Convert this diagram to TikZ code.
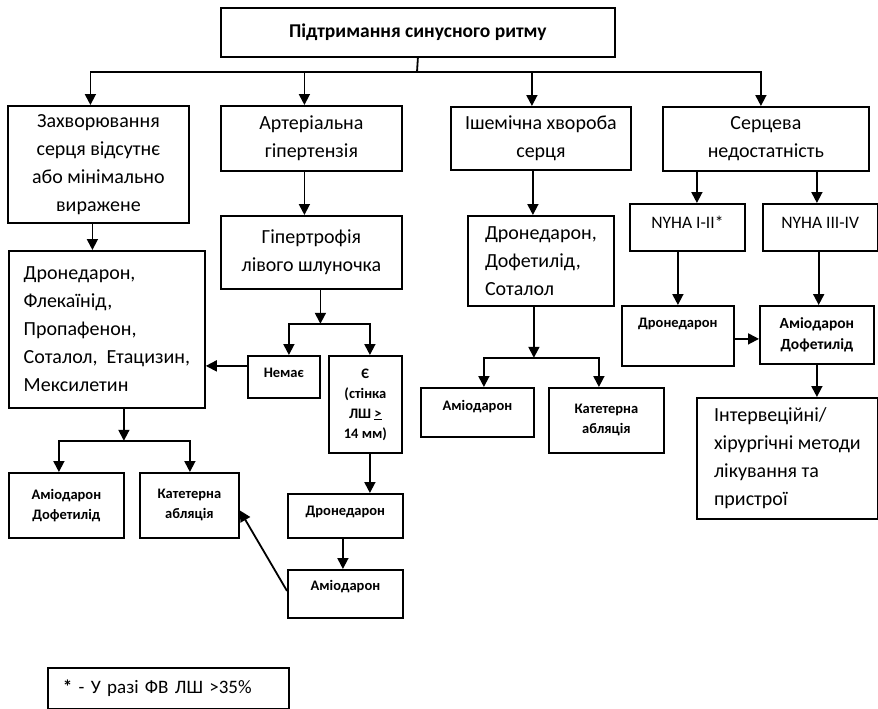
\documentclass[tikz,border=0pt]{standalone}
\usepackage{fontspec}
\setmainfont{Carlito}
\usetikzlibrary{arrows.meta, positioning}

\begin{document}
\begin{tikzpicture}[x=1pt, y=-1pt,
    box/.style={draw, line width=1.8pt, anchor=north west, inner sep=0pt, align=center},
    big/.style={font=\fontsize{20}{28}\selectfont},
    mid/.style={font=\fontsize{17.5}{24}\selectfont},
    small/.style={font=\bfseries\fontsize{14.5}{20}\selectfont},
    arr/.style={line width=1.8pt, -{Triangle[length=11pt,width=11pt]}},
    lift/.style={text depth=#1}]
    \useasboundingbox (0,0) rectangle (878,709);

    \node[box, font=\bfseries\fontsize{19.5}{22}\selectfont, minimum width=394pt, minimum height=49pt] (top) at (220,7) {Підтримання синусного ритму};

    \node[box, big, minimum width=181pt, minimum height=117pt] (zh) at (7,105) {Захворювання\\серця відсутнє\\або мінімально\\виражене};
    \node[box, big, minimum width=181pt, minimum height=65pt] (art) at (220,105) {Артеріальна\\гіпертензія};
    \node[box, big, minimum width=180pt, minimum height=63pt] (ish) at (450,106) {Ішемічна хвороба\\серця};
    \node[box, big, minimum width=206pt, minimum height=64pt] (serc) at (662,106) {Серцева\\недостатність};

    % no heart disease
    \node[box, big, align=left, minimum width=196pt, minimum height=157pt] (drugs) at (8,250) {Дронедарон,\\Флекаїнід,\\Пропафенон,\\Соталол,\ \ Етацизин,\\Мексилетин};
    \node[box, small, minimum width=115pt, minimum height=65pt] (amdof1) at (8,472) {Аміодарон\\Дофетилід};
    \node[box, small, minimum width=99pt, minimum height=65pt] (kat1) at (139,472) {Катетерна\\абляція};

    % hypertension
    \node[box, big, minimum width=181pt, minimum height=73pt] (lvh) at (220,215) {Гіпертрофія\\лівого шлуночка};
    \node[box, small, minimum width=72pt, minimum height=42pt, lift=8pt] (nemae) at (247,355) {Немає};
    \node[box, small, minimum width=73pt, minimum height=97pt] (ye) at (328,355) {Є\\(стінка\\ЛШ \underline{>}\\14 мм)};
    \node[box, small, minimum width=115pt, minimum height=44pt, lift=10pt] (dron1) at (287,493) {Дронедарон};
    \node[box, small, minimum width=115pt, minimum height=48pt, lift=16pt] (amio1) at (287,569) {Аміодарон};

    % ischemic disease
    \node[box, big, align=left, minimum width=146pt, minimum height=90pt] (dds) at (467,215) {Дронедарон,\\Дофетилід,\\Соталол};
    \node[box, small, minimum width=113pt, minimum height=49pt, lift=14pt] (amio2) at (420,387) {Аміодарон};
    \node[box, small, minimum width=115pt, minimum height=65pt] (kat2) at (548,387) {Катетерна\\абляція};

    % heart failure
    \node[box, mid, minimum width=115pt, minimum height=47pt, lift=10pt] (nyha1) at (629,203) {NYHA I-II*};
    \node[box, mid, minimum width=115pt, minimum height=47pt, lift=10pt, right=16pt of nyha1] (nyha2) {NYHA III-IV};
    \node[box, small, minimum width=112pt, minimum height=60pt, lift=26pt] (dron2) at (621,305) {Дронедарон};
    \node[box, font=\bfseries\fontsize{15.5}{21}\selectfont, minimum width=114pt, minimum height=58pt] (amdof2) at (759,305) {Аміодарон\\Дофетилід};
    \node[box, big, align=left, minimum width=181pt, minimum height=121pt] (interv) at (696,397) {Інтервеційні/\\хірургічні методи\\лікування та\\пристрої};

    \node[box, font=\fontsize{19}{24}\selectfont, align=left, text width=211pt, minimum width=241pt, minimum height=41pt] (note) at (47,667) {\textbf{*} - У разі ФВ ЛШ >35\%};

    % connectors
    \coordinate (bus1) at (417,72);
    \draw[line width=1.8pt] (top.south) -- (bus1);
    \draw[arr] (bus1) -| ([xshift=-8pt]zh.north);
    \draw[arr] (bus1) -| ([xshift=-7pt]art.north);
    \draw[arr] (bus1) -| ([xshift=-9pt]ish.north);
    \draw[arr] (bus1) -| ([xshift=-5pt]serc.north);

    \draw[arr] ([xshift=-6pt]zh.south) -- ([xshift=-6pt]zh.south |- drugs.north);
    \coordinate[below=32pt of drugs.south, xshift=17pt] (bus3);
    \draw[arr] ([xshift=17pt]drugs.south) -- (bus3);
    \draw[arr] (bus3) -| ([xshift=-7.5pt]amdof1.north);
    \draw[arr] (bus3) -| ([xshift=0.5pt]kat1.north);

    \draw[arr] ([xshift=-7pt]art.south) -- ([xshift=-7pt]art.south |- lvh.north);
    \coordinate[below=34pt of lvh.south, xshift=9pt] (bus2);
    \draw[arr] ([xshift=9pt]lvh.south) -- (bus2);
    \draw[arr] (bus2) -| ([xshift=5pt]nemae.north);
    \draw[arr] (bus2) -| ([xshift=4.5pt]ye.north);
    \draw[arr] ([yshift=11pt]nemae.west) -- ([yshift=11pt]nemae.west -| drugs.east);
    \draw[arr] ([xshift=4.5pt]ye.south) -- ([xshift=4.5pt]ye.south |- dron1.north);
    \draw[arr] ([xshift=-2.5pt]dron1.south) -- ([xshift=-2.5pt]dron1.south |- amio1.north);
    \draw[arr] ([yshift=3pt]amio1.west) -- ([yshift=-5pt]kat1.east);

    \draw[arr] ([xshift=-8pt]ish.south) -- ([xshift=-8pt]ish.south |- dds.north);
    \coordinate[below=51pt of dds.south, xshift=-7pt] (bus4);
    \draw[arr] ([xshift=-7pt]dds.south) -- (bus4);
    \draw[arr] (bus4) -| ([xshift=6.5pt]amio2.north);
    \draw[arr] (bus4) -| ([xshift=-7.5pt]kat2.north);

    \draw[arr] ([xshift=-69pt]serc.south) -- ([xshift=-69pt]serc.south |- nyha1.north);
    \draw[arr] ([xshift=51pt]serc.south) -- ([xshift=51pt]serc.south |- nyha2.north);
    \draw[arr] ([xshift=-9.5pt]nyha1.south) -- ([xshift=-9.5pt]nyha1.south |- dron2.north);
    \draw[arr] ([xshift=-1.5pt]nyha2.south) -- ([xshift=-1.5pt]nyha2.south |- amdof2.north);
    \draw[arr] ([yshift=-3pt]dron2.east) -- ([yshift=-3pt]dron2.east -| amdof2.west);
    \draw[arr] (amdof2.south) -- (amdof2.south |- interv.north);
\end{tikzpicture}
\end{document}
